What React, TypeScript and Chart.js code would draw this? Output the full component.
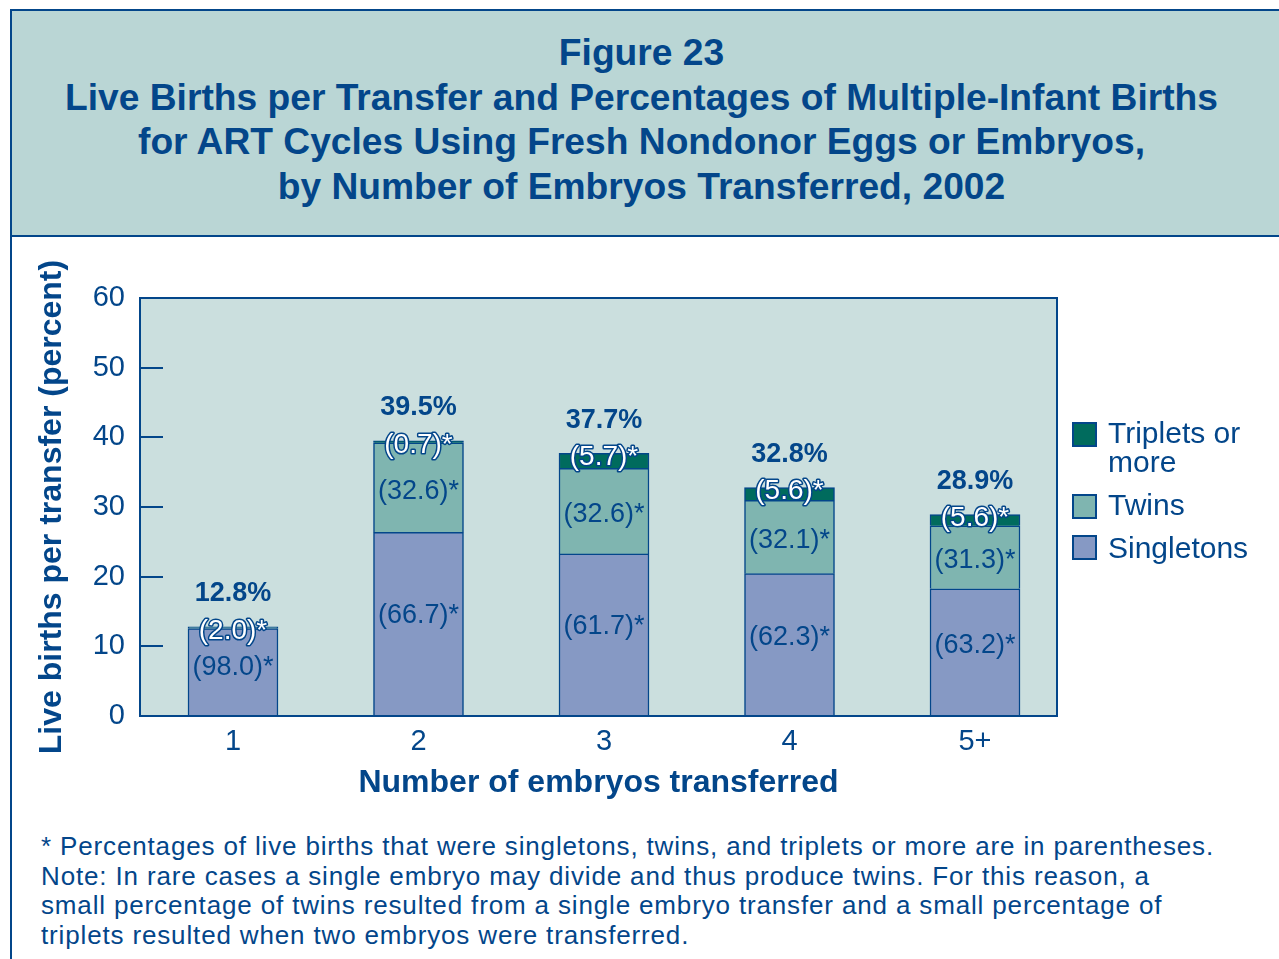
import React, { useEffect, useRef } from "react";
import { Chart, registerables } from "chart.js";

Chart.register(...registerables);

// ---------- data ----------
const categories = ["1", "2", "3", "4", "5+"];
const categoryPositions = [1, 2, 3, 4, 5];
const totalPercent = [12.8, 39.5, 37.7, 32.8, 28.9];
const singletonShare: (number | null)[] = [98.0, 66.7, 61.7, 62.3, 63.2];
const twinShare: (number | null)[] = [2.0, 32.6, 32.6, 32.1, 31.3];
const tripletShare: (number | null)[] = [null, 0.7, 5.7, 5.6, 5.6];
const yTickValues = [0, 10, 20, 30, 40, 50, 60];
const seriesNames = ["Singletons", "Twins", "Triplets or more"];

const titleLines = [
  "Figure 23",
  "Live Births per Transfer and Percentages of Multiple-Infant Births",
  "for ART Cycles Using Fresh Nondonor Eggs or Embryos,",
  "by Number of Embryos Transferred, 2002",
];
const footnoteLines = [
  "* Percentages of live births that were singletons, twins, and triplets or more are in parentheses.",
  "Note: In rare cases a single embryo may divide and thus produce twins. For this reason, a",
  "small percentage of twins resulted from a single embryo transfer and a small percentage of",
  "triplets resulted when two embryos were transferred.",
];

// ---------- styles ----------
const NAVY = "#03468a";
const HEADER_BG = "#bad6d5";
const PLOT_BG = "#cbdfde";
const SINGLE_C = "#8699c4";
const TWIN_C = "#7fb5b0";
const TRIP_C = "#006b5d";
const FONT = '"Liberation Sans", Arial, Helvetica, sans-serif';

const shares = [singletonShare, twinShare, tripletShare];
const colors = [SINGLE_C, TWIN_C, TRIP_C];
const labelFrac = [0.55, 0.48, 0.5];
const labelShift = [0, 2, 0];

const framePlugin = {
  id: "frameAndLabels",
  beforeDatasetsDraw(chart: any) {
    const { ctx, chartArea } = chart;
    ctx.save();
    ctx.fillStyle = PLOT_BG;
    ctx.fillRect(chartArea.left, chartArea.top, chartArea.right - chartArea.left, chartArea.bottom - chartArea.top);
    ctx.restore();
  },
  afterDatasetsDraw(chart: any) {
    const { ctx, chartArea } = chart;
    const yScale = chart.scales.y;
    ctx.save();
    // frame
    ctx.strokeStyle = NAVY;
    ctx.lineWidth = 2;
    ctx.strokeRect(chartArea.left, chartArea.top, chartArea.right - chartArea.left, chartArea.bottom - chartArea.top);
    // inward ticks
    yTickValues.forEach((v) => {
      if (v === yScale.min || v === yScale.max) return;
      const py = Math.round(yScale.getPixelForValue(v));
      ctx.beginPath();
      ctx.moveTo(chartArea.left, py);
      ctx.lineTo(chartArea.left + 23, py);
      ctx.stroke();
    });

    // labels
    ctx.textAlign = "center";
    ctx.textBaseline = "middle";
    categories.forEach((_, i) => {
      let topDs = -1;
      shares.forEach((s, d) => {
        if (s[i] != null) topDs = d;
      });
      shares.forEach((s, d) => {
        const val = s[i];
        if (val == null) return;
        const el = chart.getDatasetMeta(d).data[i];
        const text = `(${val.toFixed(1)})*`;
        if (d === topDs) {
          ctx.font = `28px ${FONT}`;
          ctx.lineJoin = "round";
          ctx.lineWidth = 3;
          ctx.strokeStyle = NAVY;
          ctx.strokeText(text, el.x, el.y + 4);
          ctx.fillStyle = "#ffffff";
          ctx.fillText(text, el.x, el.y + 4);
        } else {
          const y = el.base - (el.base - el.y) * labelFrac[d] + labelShift[d];
          ctx.font = `27px ${FONT}`;
          ctx.fillStyle = NAVY;
          ctx.fillText(text, el.x, y);
        }
      });
      const topEl = chart.getDatasetMeta(topDs).data[i];
      ctx.font = `bold 27px ${FONT}`;
      ctx.fillStyle = NAVY;
      ctx.fillText(`${totalPercent[i].toFixed(1)}%`, topEl.x, topEl.y - 33);
    });
    ctx.restore();
  },
};

function ChartCanvas() {
  const ref = useRef<HTMLCanvasElement | null>(null);
  useEffect(() => {
    if (!ref.current) return;
    Chart.defaults.font.family = FONT;
    const datasets = shares.map((s, d) => ({
      label: seriesNames[d],
      data: s.map((v, i) => ({
        x: categoryPositions[i],
        y: v == null ? null : (totalPercent[i] * v) / 100,
      })),
      backgroundColor: colors[d],
      borderColor: NAVY,
      borderWidth: { top: 1.5, left: 1.5, right: 1.5, bottom: 0 },
      borderSkipped: false,
      barThickness: 90,
      stack: "s",
    }));
    const chart = new Chart(ref.current, {
      type: "bar",
      data: { datasets } as any,
      plugins: [framePlugin],
      options: {
        animation: false,
        responsive: false,
        devicePixelRatio: 1,
        layout: { padding: { left: 0, right: 222, top: 58, bottom: 0 } },
        plugins: {
          legend: { display: false },
          tooltip: { enabled: false },
          title: { display: false },
        },
        scales: {
          x: {
            type: "linear",
            min: 0.4987,
            max: 5.442,
            stacked: true,
            offset: false,
            grid: { display: false, drawTicks: false },
            border: { display: false },
            afterBuildTicks: (s: any) => {
              s.ticks = categoryPositions.map((v) => ({ value: v }));
            },
            ticks: {
              callback: (v: any) => {
                const idx = categoryPositions.indexOf(Number(v));
                return idx >= 0 ? categories[idx] : "";
              },
              padding: 9,
              autoSkip: false,
              maxRotation: 0,
              font: { size: 29 },
              color: NAVY,
            },
            title: {
              display: true,
              text: "Number of embryos transferred",
              font: { size: 32, weight: "bold" },
              color: NAVY,
              padding: { top: 0, bottom: 7.5 },
            },
            afterFit: (s: any) => {
              s.height = 94;
            },
          },
          y: {
            min: 0,
            max: 60,
            stacked: true,
            grid: { display: false, drawTicks: false },
            border: { display: false },
            afterBuildTicks: (s: any) => {
              s.ticks = yTickValues.map((v) => ({ value: v }));
            },
            ticks: { padding: 15, font: { size: 29 }, color: NAVY },
            title: {
              display: true,
              text: "Live births per transfer (percent)",
              font: { size: 32, weight: "bold" },
              color: NAVY,
              padding: { top: 33, bottom: 0 },
            },
            afterFit: (s: any) => {
              s.width = 140;
            },
          },
        },
      } as any,
    });
    return () => chart.destroy();
  }, []);
  return (
    <canvas
      ref={ref}
      width={1279}
      height={570}
      style={{ position: "absolute", left: 0, top: 240, width: 1279, height: 570 }}
    />
  );
}

const legendItems = [
  { lines: ["Triplets or", "more"], color: TRIP_C, boxTop: 422, textTop: 419 },
  { lines: ["Twins"], color: TWIN_C, boxTop: 494, textTop: 490.5 },
  { lines: ["Singletons"], color: SINGLE_C, boxTop: 535, textTop: 533.5 },
];

export default function App() {
  return (
    <div
      style={{
        position: "absolute",
        left: 0,
        top: 0,
        width: 1279,
        height: 959,
        overflow: "hidden",
        background: "#ffffff",
        fontFamily: FONT,
        color: NAVY,
      }}
    >
      <div
        style={{
          position: "absolute",
          left: 10,
          top: 9,
          width: 1400,
          height: 1100,
          border: `2px solid ${NAVY}`,
          boxSizing: "border-box",
        }}
      />
      <div
        style={{
          position: "absolute",
          left: 10,
          top: 9,
          width: 1400,
          height: 228,
          background: HEADER_BG,
          border: `2px solid ${NAVY}`,
          boxSizing: "border-box",
        }}
      />
      <div
        style={{
          position: "absolute",
          left: 0,
          top: 30,
          width: 1283,
          textAlign: "center",
          fontWeight: "bold",
          fontSize: 37.2,
          lineHeight: "44.7px",
          whiteSpace: "nowrap",
        }}
      >
        {titleLines.map((l) => (
          <div key={l}>{l}</div>
        ))}
      </div>
      <ChartCanvas />
      {legendItems.map((it) => (
        <React.Fragment key={it.lines[0]}>
          <div
            style={{
              position: "absolute",
              left: 1072,
              top: it.boxTop,
              width: 25,
              height: 25,
              background: it.color,
              border: `2px solid ${NAVY}`,
              boxSizing: "border-box",
            }}
          />
          <div
            style={{
              position: "absolute",
              left: 1108,
              top: it.textTop,
              fontSize: 30,
              lineHeight: "28.5px",
              whiteSpace: "nowrap",
            }}
          >
            {it.lines.map((l) => (
              <div key={l}>{l}</div>
            ))}
          </div>
        </React.Fragment>
      ))}
      <div
        style={{
          position: "absolute",
          left: 41,
          top: 832,
          fontSize: 26,
          letterSpacing: "0.85px",
          lineHeight: "29.5px",
          whiteSpace: "nowrap",
        }}
      >
        {footnoteLines.map((l) => (
          <div key={l}>{l}</div>
        ))}
      </div>
    </div>
  );
}
